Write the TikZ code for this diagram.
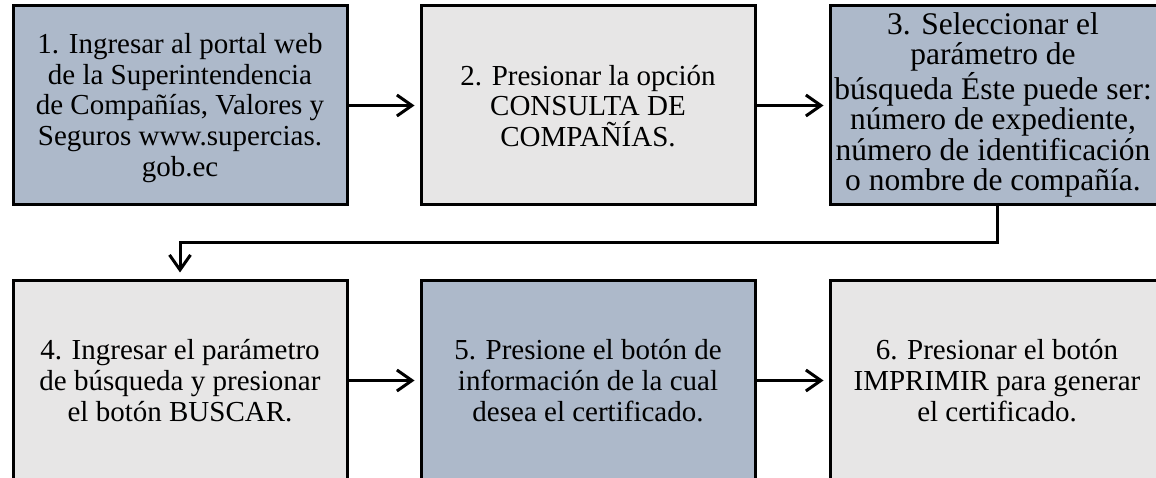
\documentclass[tikz,border=0pt]{standalone}
\usepackage{fontspec}
\setmainfont{Liberation Serif}
\usetikzlibrary{arrows.meta}
\definecolor{boxblue}{HTML}{ADB9CA}
\definecolor{boxgray}{HTML}{E7E6E6}
\tikzset{
  stepbox/.style={draw=black, line width=3pt, rectangle, minimum width=334pt,
    minimum height=199pt, inner sep=0pt},
  bluebox/.style={stepbox, fill=boxblue},
  graybox/.style={stepbox, fill=boxgray},
  steptext/.style={inner sep=0pt, align=center, font=\fontsize{29}{30.6}\selectfont},
  bigtext/.style={inner sep=0pt, align=center, font=\fontsize{31.5}{30.4}\selectfont},
  arr/.style={draw=black, line width=3pt,
    -{Straight Barb[length=15pt,width=21pt]}}
}
\begin{document}
\begin{tikzpicture}[x=1pt,y=-1pt]
\useasboundingbox (0,0) rectangle (1156,478);
\clip (0,0) rectangle (1156,478);
\node[bluebox] (b1) at (180,105.5) {};
\node[graybox] (b2) at (588,105.5) {};
\node[bluebox] (b3) at (997,105.5) {};
\node[graybox] (b4) at (180,380.5) {};
\node[bluebox] (b5) at (588,380.5) {};
\node[graybox] (b6) at (997,380.5) {};
\node[steptext] (t1) at (180,108) {1. Ingresar al portal web\\de la Superintendencia\\de Compañías, Valores y\\Seguros www.supercias.\\gob.ec};
\node[steptext] (t2) at (588,106) {2. Presionar la opción\\CONSULTA DE\\COMPAÑÍAS.};
\node[bigtext] (t3) at (993,104.7) {3. Seleccionar el\\parámetro de\\búsqueda Éste puede ser:\\número de expediente,\\número de identificación\\o nombre de compañía.};
\node[steptext] (t4) at (180,380.6) {4. Ingresar el parámetro\\de búsqueda y presionar\\el botón BUSCAR.};
\node[steptext] (t5) at (588,380.6) {5. Presione el botón de\\información de la cual\\desea el certificado.};
\node[steptext] (t6) at (997,380.6) {6. Presionar el botón\\IMPRIMIR para generar\\el certificado.};
\coordinate (m) at (997,242.5);
\draw[arr, shorten >=5pt] (b1) -- (b2);
\draw[arr, shorten >=5pt] (b2) -- (b3);
\draw[arr, shorten >=7pt] (b3.south) -- (m) -| (b4.north);
\draw[arr, shorten >=5pt] (b4) -- (b5);
\draw[arr, shorten >=5pt] (b5) -- (b6);
\end{tikzpicture}
\end{document}
